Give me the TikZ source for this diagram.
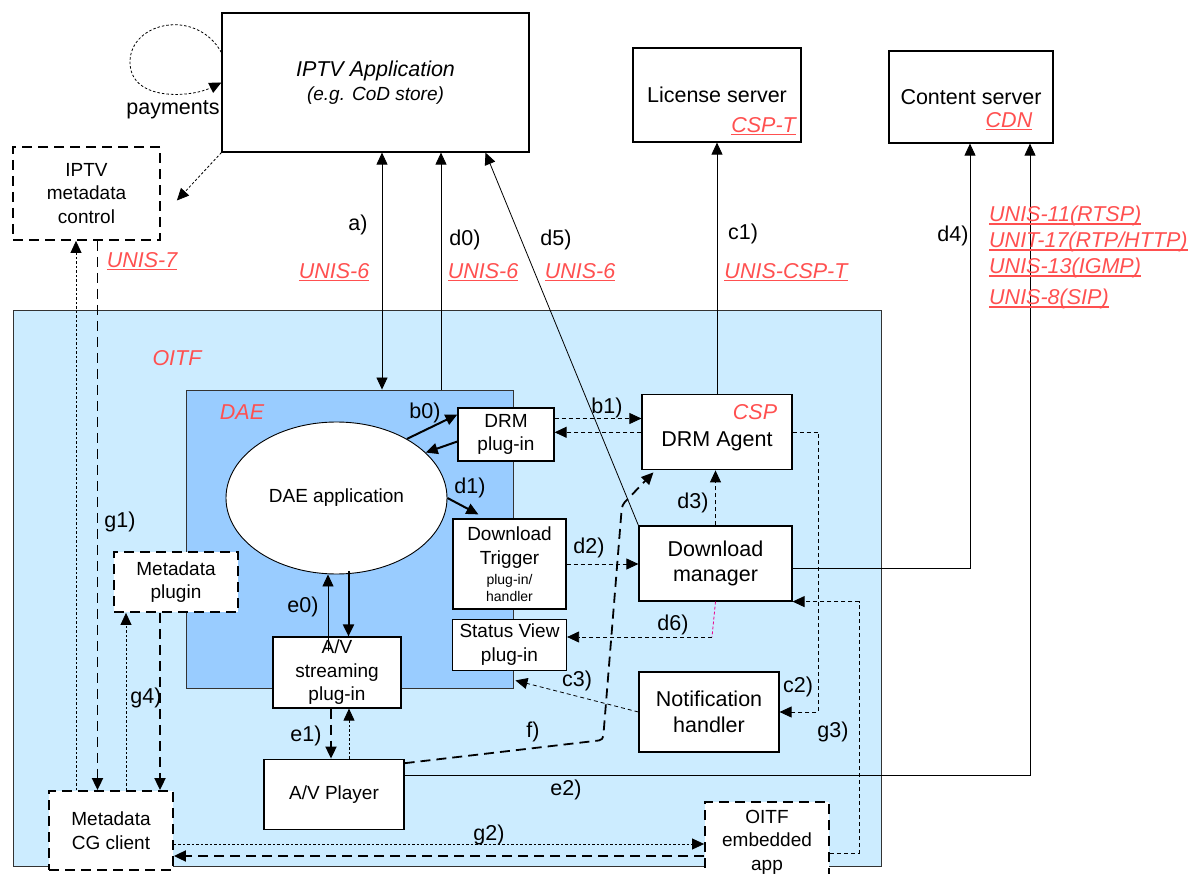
\documentclass[tikz,border=0pt]{standalone}
\usepackage{fontspec}
\setmainfont{Liberation Sans}
\usetikzlibrary{shapes.geometric, arrows.meta}
\usetikzlibrary{positioning}
\definecolor{oitfblue}{RGB}{204,236,255}
\definecolor{daeblue}{RGB}{153,204,255}
\definecolor{unisred}{RGB}{255,80,80}
\def\bigf{\fontsize{21.5}{25.5}\selectfont}
\def\medf{\fontsize{19}{23.5}\selectfont}
\def\smallf{\fontsize{14}{16}\selectfont}
\def\tagf{\fontsize{21.5}{25}\selectfont\itshape}
\newcommand{\unis}[1]{{\color{unisred}\itshape\setbox0\hbox{#1}\rlap{\rule[-3pt]{\wd0}{1.1pt}}\box0}}
\tikzstyle{blk} = [rectangle, draw=black, fill=white, line width=1.2pt, align=center, inner sep=2pt]
\tikzstyle{sblk} = [blk, font=\medf]
\tikzstyle{dblk} = [sblk, line width=1.8pt, dash pattern=on 10pt off 6pt]
\tikzstyle{zone} = [rectangle, draw=black!80, line width=0.9pt]
\tikzstyle{aro} = [->, line width=0.8pt]
\tikzstyle{thk} = [aro, line width=2pt]
\tikzstyle{dsh} = [aro, dash pattern=on 4pt off 3pt]
\tikzstyle{dot} = [aro, dash pattern=on 2.5pt off 2pt]
\tikzstyle{ldsh} = [aro, line width=1.8pt, dash pattern=on 10pt off 6pt]
\tikzstyle{lbl} = [inner sep=0pt]
\tikzstyle{tag} = [inner sep=0pt, text=unisred, font=\tagf]
\begin{document}
\begin{tikzpicture}[x=1pt, y=-1pt, >={Triangle[length=12pt,width=11pt]}, every node/.style={font=\bigf}]
  \useasboundingbox (0,0) rectangle (1192,874);

  % OITF and DAE areas
  \node (oitf) [zone, fill=oitfblue, minimum width=868pt, minimum height=556pt] at (447,588) {};
  \node (oitftag) [tag] at (177,358) {OITF};
  \node (dae) [zone, fill=daeblue, minimum width=327pt, minimum height=298pt] at (349.5,539) {};
  \node (daetag) [tag] at (242,412) {DAE};

  % network side
  \node (iptvapp) [blk, minimum width=307pt, minimum height=139pt] at (375.5,82.5) {\itshape IPTV Application\\[-1.5pt]\fontsize{19}{23}\selectfont\itshape (e.g. CoD store)};
  \node (license) [blk, minimum width=168pt, minimum height=94pt] at (717,95) {License server};
  \node (lictag) [lbl, anchor=east] at (796,126) {\unis{CSP-T}};
  \node (content) [blk, minimum width=164pt, minimum height=92pt] at (971,97) {Content server};
  \node (cdntag) [lbl] at (1009,121) {\unis{CDN}};
  \node (metactl) [dblk, minimum width=147pt, minimum height=93pt] at (86.5,193.5) {IPTV\\metadata\\control};

  % DAE
  \node (daeapp) [ellipse, draw=black, fill=white, line width=0.9pt, font=\medf, minimum width=221pt, minimum height=152pt] at (336.5,498) {DAE application};
  \node (drmplug) [sblk, minimum width=96pt, minimum height=53pt] at (506,434.5) {DRM\\plug-in};
  \node (dltrig) [sblk, minimum width=113pt, minimum height=90pt] at (509.5,564) {Download\\Trigger\\[-3pt]{\smallf plug-in/}\\[-7pt]{\smallf handler}};
  \node (statview) [sblk, minimum width=114pt, minimum height=51pt, below=9pt of dltrig] {Status View\\plug-in};
  \node (avstream) [sblk, minimum width=128pt, minimum height=71pt] at (337,672.5) {A/V\\streaming\\plug-in};
  \node (avplayer) [sblk, minimum width=140pt, minimum height=70pt, below=50pt of avstream, xshift=-3pt] {A/V Player};

  % metadata
  \node (metaplug) [dblk, minimum width=124pt, minimum height=60pt] at (176,582) {Metadata\\plugin};
  \node (cgclient) [dblk, minimum width=124pt, minimum height=79pt] at (111,830.5) {Metadata\\CG client};

  % CSP / download
  \node (dlmgr) [blk, minimum width=153pt, minimum height=75pt] at (715.5,563.5) {Download\\manager};
  \node (drmagent) [blk, minimum width=150pt, minimum height=75pt, above=55pt of dlmgr, xshift=1.5pt] {\raisebox{-14pt}[0pt][0pt]{DRM Agent}};
  \node (csptag) [tag] at (755,412) {CSP};
  \node (notif) [blk, minimum width=140pt, minimum height=80pt] at (709,712) {Notification\\handler};
  \node (embapp) [dblk, minimum width=124pt, minimum height=80pt] at (767,842) {OITF\\embedded\\app};

  % links to the servers
  \draw [dot] ([yshift=30pt]iptvapp.west) .. controls +(-25,-45) and +(0,-40) .. (130,62) .. controls +(0,40) and +(-30,15) .. (iptvapp.west);
  \draw [dot] (iptvapp.south west) -- ([xshift=16pt,yshift=-7pt]metactl.east);
  \draw [aro,<->] (iptvapp.south) ++(6.5,0) coordinate (atop) -- (atop |- dae.north);
  \draw [aro] (dae.north) ++(91.5,0) coordinate (dzero) -- (dzero |- iptvapp.south);
  \draw [aro] (dlmgr.north west) -- ([xshift=110pt]iptvapp.south);
  \draw [aro] (drmagent.north) -- (drmagent.north |- license.south);
  \draw [aro] ([yshift=-4.5pt]dlmgr.east) -| ([xshift=-1pt]content.south);
  \draw [aro] ([yshift=19pt]avplayer.east) -| ([xshift=59pt]content.south);

  % inside the DAE
  \draw [thk] (daeapp.40) -- ([yshift=20pt]drmplug.west);
  \draw [thk] ([yshift=-7pt]drmplug.west) -- (daeapp.27);
  \draw [thk] (daeapp.east) -- ([xshift=26pt,yshift=4pt]dltrig.north west);
  \draw [aro] (avstream.north) ++(-9,15) coordinate (ezero) -- (ezero |- daeapp.south);
  \draw [thk] (daeapp.south) ++(12,-3) coordinate (edown) -- (edown |- avstream.north);

  % DRM and download
  \draw [dsh] (drmplug.east) ++(0,-16) coordinate (bone) -- (bone -| drmagent.west);
  \draw [dsh] (drmagent.west) -- (drmagent.west -| drmplug.east);
  \draw [dsh] (dltrig.east) -- (dltrig.east -| dlmgr.west);
  \draw [dsh] (dlmgr.north) -- (dlmgr.north |- drmagent.south);
  \coordinate (dsix) at (712,637);
  \draw [magenta, line width=0.8pt, dash pattern=on 3pt off 2pt] (dlmgr.south) -- (dsix);
  \draw [dsh] (dsix) -- (dsix -| statview.east);
  \draw [dsh] (drmagent.east) -- ++(26,0) |- (notif.east);
  \draw [dsh] (notif.west) -- ([xshift=2pt,yshift=8pt]dae.south east);
  \draw [dsh] ([yshift=-11pt]embapp.east) -- ++(29,0) |- (dlmgr.south east);

  % player
  \draw [ldsh] (avstream.south) ++(-6,0) coordinate (eone) -- (eone |- avplayer.north);
  \draw [dot] (avplayer.north) ++(15,0) coordinate (eup) -- (eup |- avstream.south);
  \draw [ldsh, rounded corners=4pt] ([yshift=31pt]avplayer.east) -- (603,740) -- (622,505) -- ([xshift=12pt,yshift=-2pt]drmagent.south west);

  % metadata
  \draw [ldsh] (metactl.south) ++(11,0) coordinate (gone) -- (gone |- cgclient.north);
  \draw [dot] (cgclient.north) ++(-35,0) coordinate (gup) -- (gup |- metactl.south);
  \draw [dot] (cgclient.north) ++(15,0) coordinate (gfour) -- (gfour |- metaplug.south);
  \draw [ldsh] (metaplug.south) ++(-16,0) coordinate (gdown) -- (gdown |- cgclient.north);
  \draw [dot] (cgclient.east) ++(0,13.5) coordinate (gtwo) -- (gtwo -| embapp.west);
  \draw [ldsh] (embapp.west) ++(0,14) coordinate (gback) -- (gback -| cgclient.east);

  % labels
  \node (paylab) [lbl] at (173,110) {payments};
  \node (alab) [lbl] at (358,225) {a)};
  \node (dzlab) [lbl] at (465,240) {d0)};
  \node (dflab) [lbl] at (556,240) {d5)};
  \node (conelab) [lbl] at (743,234) {c1)};
  \node (dfourlab) [lbl] at (953,236) {d4)};
  \node (usev) [lbl] at (142,261) {\unis{UNIS-7}};
  \node (usixa) [lbl] at (334,272) {\unis{UNIS-6}};
  \node (usixb) [lbl] at (483,272) {\unis{UNIS-6}};
  \node (usixc) [lbl] at (580,272) {\unis{UNIS-6}};
  \node (ucsp) [lbl] at (786,272) {\unis{UNIS-CSP-T}};
  \node (urtsp) [lbl, anchor=west] at (989,216) {\unis{UNIS-11(RTSP)}};
  \node (urtp) [lbl, anchor=west] at (989,242) {\unis{UNIT-17(RTP/HTTP)}};
  \node (uigmp) [lbl, anchor=west] at (989,268) {\unis{UNIS-13(IGMP)}};
  \node (usip) [lbl, anchor=west] at (989,299) {\unis{UNIS-8(SIP)}};
  \node (bzlab) [lbl] at (425,413) {b0)};
  \node (bolab) [lbl] at (607,408) {b1)};
  \node (dolab) [lbl] at (470,488) {d1)};
  \node (dtwolab) [lbl] at (589,548) {d2)};
  \node (dthrlab) [lbl] at (693,503) {d3)};
  \node (dsixlab) [lbl] at (673,625) {d6)};
  \node (ctwolab) [lbl] at (798,687) {c2)};
  \node (cthrlab) [lbl] at (577,681) {c3)};
  \node (gthrlab) [lbl] at (833,732) {g3)};
  \node (flab) [lbl] at (533,732) {f)};
  \node (etwolab) [lbl] at (566,790) {e2)};
  \node (gtwolab) [lbl] at (489,835) {g2)};
  \node (ezlab) [lbl] at (303,607) {e0)};
  \node (eolab) [lbl] at (306,736) {e1)};
  \node (gfourlab) [lbl] at (146,698) {g4)};
  \node (gonelab) [lbl] at (120,522) {g1)};
\end{tikzpicture}
\end{document}
